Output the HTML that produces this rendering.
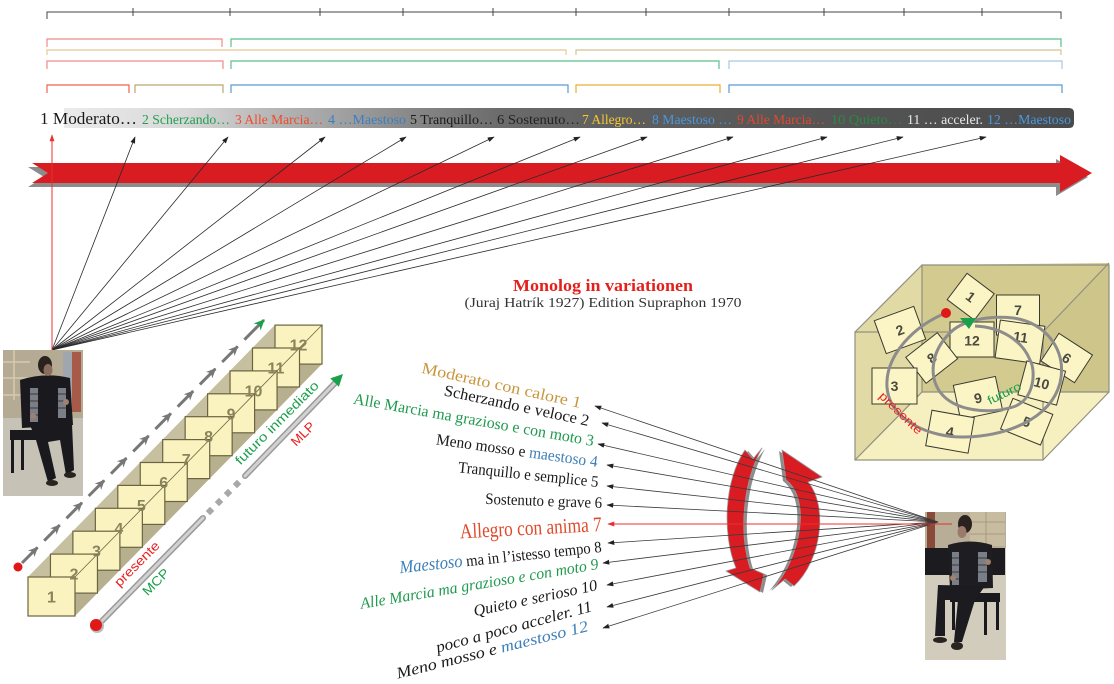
<!DOCTYPE html>
<html><head><meta charset="utf-8"><style>
html,body{margin:0;padding:0;background:#fff;}
svg{display:block;}
</style></head><body>
<svg width="1114" height="684" viewBox="0 0 1114 684" xmlns="http://www.w3.org/2000/svg" font-family="'Liberation Serif', serif">
<defs>
<marker id="ak" viewBox="0 0 10 10" refX="9" refY="5" markerWidth="7" markerHeight="7" markerUnits="userSpaceOnUse" orient="auto"><path d="M0,1.5L10,5L0,8.5Z" fill="#222"/></marker>
<marker id="ar" viewBox="0 0 10 10" refX="9" refY="5" markerWidth="7" markerHeight="7" markerUnits="userSpaceOnUse" orient="auto"><path d="M0,1.5L10,5L0,8.5Z" fill="#e83030"/></marker>
<marker id="ag" viewBox="0 0 10 10" refX="9" refY="5" markerWidth="10" markerHeight="10" markerUnits="userSpaceOnUse" orient="auto"><path d="M0,0.5L10,5L0,9.5L3,5Z" fill="#777"/></marker>
<marker id="agr" viewBox="0 0 10 10" refX="9" refY="5" markerWidth="11" markerHeight="11" markerUnits="userSpaceOnUse" orient="auto"><path d="M0,0.5L10,5L0,9.5L3,5Z" fill="#1aa04a"/></marker>
<linearGradient id="bar" gradientUnits="userSpaceOnUse" x1="64" y1="0" x2="1074" y2="0">
<stop offset="0" stop-color="#ebebeb"/>
<stop offset="0.12" stop-color="#d8d8d8"/>
<stop offset="0.2" stop-color="#b8b8b8"/>
<stop offset="0.27" stop-color="#a2a2a2"/>
<stop offset="0.35" stop-color="#868686"/>
<stop offset="0.43" stop-color="#6c6c6c"/>
<stop offset="0.55" stop-color="#5e5e5e"/>
<stop offset="1" stop-color="#4a4a4a"/>
</linearGradient>
</defs>

<!-- top ruler -->
<g stroke="#444" stroke-width="1" fill="none">
<path d="M47,19 V12 H1061 V19"/>
<path d="M133,8V16 M230,8V16 M320,8V16 M403,8V16 M493,8V16 M576,8V16 M646,8V16 M729,8V16 M824,8V16 M904,8V16 M982,8V16"/>
</g>

<!-- brackets -->
<g fill="none" stroke-width="1.2">
<path d="M47,47V39H222V47" stroke="#f08a8a"/>
<path d="M231,47V39H1061V47" stroke="#5cc08a"/>
<path d="M47,55V50H566V55" stroke="#e8c890"/>
<path d="M576,55V50H1061V55" stroke="#d8c090"/>
<path d="M47,69V61H223V69" stroke="#f08a8a"/>
<path d="M231,69V61H719V69" stroke="#5cc08a"/>
<path d="M729,69V61H1062V69" stroke="#a8c8e8"/>
<path d="M47,93V85H129V93" stroke="#f06050"/>
<path d="M135,93V85H223V93" stroke="#b8a870"/>
<path d="M231,93V85H568V93" stroke="#5a9ad0"/>
<path d="M576,93V85H720V93" stroke="#e8b030"/>
<path d="M729,93V85H1062V93" stroke="#5a9ad0"/>
</g>

<!-- text bar -->
<path d="M64,108 H1069 Q1074,108 1074,113 V123 Q1074,128 1069,128 H64 Z" fill="url(#bar)"/>
<g font-size="14">
<text x="40" y="124" font-size="17" fill="#1a1a1a" textLength="97" lengthAdjust="spacingAndGlyphs">1 Moderato…</text>
<text x="142" y="124" fill="#1fa050" textLength="88" lengthAdjust="spacingAndGlyphs">2 Scherzando…</text>
<text x="235" y="124" fill="#f04a2a" textLength="88" lengthAdjust="spacingAndGlyphs">3 Alle Marcia…</text>
<text x="328" y="124" fill="#3a7fc0" textLength="78" lengthAdjust="spacingAndGlyphs">4 …Maestoso</text>
<text x="410" y="124" fill="#1a1a1a" textLength="83" lengthAdjust="spacingAndGlyphs">5 Tranquillo…</text>
<text x="497" y="124" fill="#222" textLength="83" lengthAdjust="spacingAndGlyphs">6 Sostenuto…</text>
<text x="582" y="124" fill="#f5c830" textLength="64" lengthAdjust="spacingAndGlyphs">7 Allegro…</text>
<text x="652" y="124" fill="#4a98dc" textLength="80" lengthAdjust="spacingAndGlyphs">8 Maestoso …</text>
<text x="737" y="124" fill="#e04a30" textLength="88" lengthAdjust="spacingAndGlyphs">9 Alle Marcia…</text>
<text x="831" y="124" fill="#2a8a44" textLength="71" lengthAdjust="spacingAndGlyphs">10 Quieto…</text>
<text x="907" y="124" fill="#e8e8e8" textLength="76" lengthAdjust="spacingAndGlyphs">11 … acceler.</text>
<text x="987" y="124" fill="#4a98dc" textLength="84" lengthAdjust="spacingAndGlyphs">12 …Maestoso</text>
</g>

<!-- big red arrow -->
<path d="M28,167 L1056,167 L1056,159 L1088,177 L1056,196 L1056,187 L28,187 L44,177 Z" fill="#8c8c8c"/>
<path d="M32,163 L1060,163 L1060,155 L1092,173 L1060,192 L1060,183 L32,183 L48,173 Z" fill="#d81c22"/>

<!-- top fan lines -->
<g stroke="#2a2a2a" stroke-width="0.8" marker-end="url(#ak)">
<line x1="52" y1="350" x2="135" y2="137"/>
<line x1="52" y1="350" x2="228" y2="137"/>
<line x1="52" y1="350" x2="325" y2="137"/>
<line x1="52" y1="350" x2="406" y2="137"/>
<line x1="52" y1="350" x2="494" y2="137"/>
<line x1="52" y1="350" x2="580" y2="137"/>
<line x1="52" y1="350" x2="647" y2="137"/>
<line x1="52" y1="350" x2="733" y2="137"/>
<line x1="52" y1="350" x2="827" y2="137"/>
<line x1="52" y1="350" x2="903" y2="137"/>
<line x1="52" y1="350" x2="986" y2="137"/>
</g>
<line x1="52" y1="350" x2="52" y2="135" stroke="#e83030" stroke-width="1" marker-end="url(#ar)"/>

<!-- title -->
<text x="603" y="291" text-anchor="middle" font-weight="bold" font-size="17" fill="#e3211c" textLength="180" lengthAdjust="spacingAndGlyphs">Monolog in variationen</text>
<text x="603" y="307" text-anchor="middle" font-size="14" fill="#333" textLength="277" lengthAdjust="spacingAndGlyphs">(Juraj Hatrík 1927) Edition Supraphon 1970</text>

<!-- left photo -->
<g>
<rect x="3" y="350" width="80" height="146" fill="#c6c2b6"/>
<rect x="3" y="350" width="80" height="68" fill="#b5ab94"/>
<path d="M3,362H30M3,378H30M3,395H30M14,350V400" stroke="#d6caae" stroke-width="1.5"/>
<rect x="63" y="352" width="9" height="60" fill="#a0a6ae"/>
<rect x="72" y="352" width="9" height="60" fill="#a85a48"/>
<rect x="10" y="430" width="33" height="10" fill="#1a1a1e"/>
<rect x="11" y="440" width="3" height="33" fill="#1a1a1e"/>
<rect x="21" y="440" width="3" height="30" fill="#1a1a1e"/>
<path d="M20,380 Q45,372 70,378 L73,425 L22,428 Z" fill="#1a1a1e"/>
<rect x="30" y="388" width="8" height="34" fill="#7a7e86"/>
<rect x="58" y="388" width="8" height="30" fill="#7a7e86"/>
<path d="M30,394H38M30,401H38M30,408H38M30,415H38M58,394H66M58,401H66M58,408H66" stroke="#3a3a40" stroke-width="1"/>
<path d="M30,425 L72,424 L74,470 L66,475 L60,440 L48,442 L56,478 L48,482 L36,440 Z" fill="#1a1a1e"/>
<ellipse cx="52" cy="483" rx="6" ry="3" fill="#2a2420"/>
<ellipse cx="70" cy="475" rx="6" ry="3" fill="#2a2420"/>
<ellipse cx="45" cy="365" rx="7" ry="9" fill="#2a221e"/>
<ellipse cx="48" cy="370" rx="4.5" ry="6" fill="#8a6c5c"/>
<ellipse cx="33" cy="416" rx="3" ry="3" fill="#a08070"/>
<ellipse cx="66" cy="402" rx="3" ry="3" fill="#a08070"/>
</g>

<!-- staircase prism -->
<polygon points="28,616 28,577 275,325 322,325 322,364 75,616" fill="#b7b08f"/>
<polygon points="28,577 275,325 322,325 75,577" fill="#c7c0a0"/>
<g fill="#faf3c0" stroke="#6b6440" stroke-width="1.2">
<rect x="275" y="325.1" width="47" height="39"/>
<rect x="252.5" y="348" width="47" height="39"/>
<rect x="230.05" y="370.9" width="47" height="39"/>
<rect x="207.6" y="393.8" width="47" height="39"/>
<rect x="185.15" y="416.7" width="47" height="39"/>
<rect x="162.7" y="439.6" width="47" height="39"/>
<rect x="140.25" y="462.5" width="47" height="39"/>
<rect x="117.8" y="485.4" width="47" height="39"/>
<rect x="95.35" y="508.3" width="47" height="39"/>
<rect x="72.9" y="531.2" width="47" height="39"/>
<rect x="50.45" y="554.1" width="47" height="39"/>
<rect x="28" y="577" width="47" height="39"/>
</g>
<line x1="75" y1="577" x2="322" y2="325" stroke="#6b6440" stroke-width="0.8"/>
<g font-family="'Liberation Sans', sans-serif" font-weight="bold" font-size="16" fill="#8a845c" text-anchor="middle">
<text x="298.5" y="350.5">12</text>
<text x="276" y="373.5">11</text>
<text x="253.5" y="396.4">10</text>
<text x="231.1" y="419.3">9</text>
<text x="208.6" y="442.2">8</text>
<text x="186.2" y="465.1">7</text>
<text x="163.7" y="488">6</text>
<text x="141.3" y="510.9">5</text>
<text x="118.8" y="533.8">4</text>
<text x="96.4" y="556.7">3</text>
<text x="73.9" y="579.6">2</text>
<text x="51.5" y="602.5">1</text>
</g>

<!-- dashed gray arrows -->
<circle cx="18" cy="567" r="4.5" fill="#e01818"/>
<g stroke="#777" stroke-width="3" marker-end="url(#ag)">
<line x1="22" y1="563" x2="37.5" y2="547.4"/>
<line x1="44.2" y1="540.7" x2="59.7" y2="525.1"/>
<line x1="66.5" y1="518.3" x2="82" y2="502.7"/>
<line x1="88.7" y1="496" x2="104.2" y2="480.4"/>
<line x1="111" y1="473.7" x2="126.5" y2="458.1"/>
<line x1="133.2" y1="451.4" x2="148.7" y2="435.8"/>
<line x1="155.4" y1="429" x2="170.9" y2="413.4"/>
<line x1="177.7" y1="406.7" x2="193.2" y2="391.1"/>
<line x1="199.9" y1="384.4" x2="215.4" y2="368.8"/>
<line x1="222.2" y1="362" x2="237.7" y2="346.4"/>
</g>
<line x1="244.4" y1="339.7" x2="264" y2="320" stroke="#777" stroke-width="3" marker-end="url(#agr)"/>

<!-- MCP arrow -->
<g stroke-linecap="round">
<line x1="97" y1="626" x2="203" y2="518" stroke="#9a9a9a" stroke-width="6"/>
<line x1="97" y1="626" x2="203" y2="518" stroke="#d2d2d2" stroke-width="3"/>
<line x1="245" y1="476" x2="336" y2="382" stroke="#9a9a9a" stroke-width="6"/>
<line x1="245" y1="476" x2="336" y2="382" stroke="#d2d2d2" stroke-width="3"/>
</g>
<g fill="#a8a8a8">
<rect x="-3" y="-3" width="6" height="6" transform="translate(210,511) rotate(-45)"/>
<rect x="-3" y="-3" width="6" height="6" transform="translate(219,502) rotate(-45)"/>
<rect x="-3" y="-3" width="6" height="6" transform="translate(228,493) rotate(-45)"/>
<rect x="-3" y="-3" width="6" height="6" transform="translate(237,484) rotate(-45)"/>
</g>
<polygon points="343,374 338.9,386.8 330.3,378.4" fill="#1aa04a"/>
<circle cx="97" cy="626" r="7" fill="#bbb"/>
<circle cx="96" cy="625" r="6" fill="#e01818"/>

<g font-family="'Liberation Sans', sans-serif" font-size="13">
<text transform="translate(140,567) rotate(-45)" text-anchor="middle" fill="#e82020" textLength="58" lengthAdjust="spacingAndGlyphs">presente</text>
<text transform="translate(159,585) rotate(-45)" text-anchor="middle" fill="#1aa04a" textLength="32" lengthAdjust="spacingAndGlyphs">MCP</text>
<text transform="translate(280,426) rotate(-45)" text-anchor="middle" fill="#1aa04a" textLength="112" lengthAdjust="spacingAndGlyphs">futuro inmediato</text>
<text transform="translate(306,437) rotate(-45)" text-anchor="middle" fill="#e82020" textLength="28" lengthAdjust="spacingAndGlyphs">MLP</text>
</g>

<!-- right cube -->
<polygon points="922,265 1109,263 1109,392 922,392" fill="#d3ca90"/>
<polygon points="855,332 922,265 922,392 855,460" fill="#e2daa5"/>
<polygon points="1043,332 1109,263 1109,392 1043,460" fill="#cec58a"/>
<polygon points="855,460 922,392 1109,392 1043,460" fill="#f6efbf"/>
<g fill="none" stroke="#8f8f80" stroke-width="1.2">
<rect x="855" y="332" width="188" height="128"/>
<path d="M922,392V265H1109V392H922"/>
<path d="M855,332L922,265M1043,332L1109,263M1043,460L1109,392M855,460L922,392"/>
</g>
<g fill="#fbf4c4" stroke="#3a3a30" stroke-width="1" font-family="'Liberation Sans', sans-serif" font-weight="bold" font-size="14">
<g transform="translate(1018,315)"><rect x="-21.5" y="-20" width="43" height="40"/><text x="0" y="0" text-anchor="middle" fill="#4a4a40" stroke="none">7</text></g>
<g transform="translate(970.7,296.7) rotate(37)"><rect x="-17" y="-16.5" width="34" height="33"/><text x="0" y="5" text-anchor="middle" fill="#4a4a40" stroke="none">1</text></g>
<g transform="translate(900,330) rotate(-20)"><rect x="-21" y="-17.5" width="42" height="35"/><text x="0" y="5" text-anchor="middle" fill="#4a4a40" stroke="none">2</text></g>
<g transform="translate(1020,342) rotate(8)"><rect x="-22.5" y="-19" width="45" height="38"/><text x="0" y="0" text-anchor="middle" fill="#4a4a40" stroke="none">11</text></g>
<g transform="translate(972,339.5)"><rect x="-22" y="-17.5" width="44" height="35"/><text x="0" y="6" text-anchor="middle" fill="#4a4a40" stroke="none">12</text></g>
<g transform="translate(1066.7,358) rotate(33)"><rect x="-20" y="-16.5" width="40" height="33"/><text x="0" y="5" text-anchor="middle" fill="#4a4a40" stroke="none">6</text></g>
<g transform="translate(931.7,358) rotate(-38)"><rect x="-20" y="-16.5" width="40" height="33"/><text x="0" y="5" text-anchor="middle" fill="#4a4a40" stroke="none">8</text></g>
<g transform="translate(894.5,386)"><rect x="-22.5" y="-18" width="45" height="36"/><text x="0" y="5" text-anchor="middle" fill="#4a4a40" stroke="none">3</text></g>
<g transform="translate(1041.7,383) rotate(15)"><rect x="-20" y="-17.5" width="40" height="35"/><text x="0" y="5" text-anchor="middle" fill="#4a4a40" stroke="none">10</text></g>
<g transform="translate(978,398) rotate(-12)"><rect x="-21.5" y="-17.5" width="43" height="35"/><text x="0" y="5" text-anchor="middle" fill="#4a4a40" stroke="none">9</text></g>
<g transform="translate(1026.7,421.7) rotate(22)"><rect x="-21.5" y="-16.5" width="43" height="33"/><text x="0" y="5" text-anchor="middle" fill="#4a4a40" stroke="none">5</text></g>
<g transform="translate(950,431.7) rotate(10)"><rect x="-21.5" y="-18" width="43" height="36"/><text x="0" y="5" text-anchor="middle" fill="#4a4a40" stroke="none">4</text></g>
</g>
<path d="M946,313 C915,325 885,355 887,387 C889,420 930,438 965,437 C1005,436 1050,420 1060,383 C1068,350 1045,322 1013,318 C985,315 960,322 950,333 C932,350 928,375 940,392 C955,412 990,414 1013,407 C1035,400 1036,370 1030,360 C1022,340 1000,327 975,326" fill="none" stroke="#8c8c8c" stroke-width="3"/>
<polygon points="960,318 976,318 969,329" fill="#1aa04a"/>
<circle cx="946" cy="313" r="5" fill="#e01818"/>
<g font-family="'Liberation Sans', sans-serif" font-size="12">
<text transform="translate(898,416) rotate(44)" text-anchor="middle" fill="#e82020" textLength="55" lengthAdjust="spacingAndGlyphs">presente</text>
<text transform="translate(1006,397) rotate(-26)" text-anchor="middle" fill="#1aa04a" textLength="36" lengthAdjust="spacingAndGlyphs">futuro</text>
</g>

<!-- curved red arrows -->
<g stroke-linejoin="round">
<path transform="translate(3,1)" d="M745,450 L753,459 L762,448 C744,480 738,530 750,568 L764,574 L760,592 L726,571 L736,568 C722,535 724,480 745,450 Z" fill="#8c8c8c"/>
<path d="M745,450 L753,459 L762,448 C744,480 738,530 750,568 L764,574 L760,592 L726,571 L736,568 C722,535 724,480 745,450 Z" fill="#d81c22" stroke="#9a9a9a" stroke-width="0.8"/>
<path transform="translate(-3,1)" d="M772,590 C800,560 812,500 786,480 L782,450 L822,477 L808,482 C828,505 822,560 794,586 L785,579 Z" fill="#8c8c8c"/>
<path d="M772,590 C800,560 812,500 786,480 L782,450 L822,477 L808,482 C828,505 822,560 794,586 L785,579 Z" fill="#d81c22" stroke="#9a9a9a" stroke-width="0.8"/>
</g>

<!-- right photo -->
<g>
<rect x="925" y="512" width="81" height="148" fill="#d2ccbc"/>
<rect x="925" y="512" width="81" height="36" fill="#b8ad96"/>
<rect x="970" y="512" width="35" height="34" fill="#c8bca0"/>
<path d="M970,522H1005M970,534H1005M986,512V546" stroke="#a89a80" stroke-width="1"/>
<rect x="927" y="512" width="8" height="40" fill="#8a4a3a"/>
<rect x="925" y="548" width="80" height="27" fill="#1c1c20"/>
<rect x="950" y="593" width="50" height="9" fill="#1a1a1e"/>
<rect x="952" y="602" width="3" height="28" fill="#1a1a1e"/>
<rect x="984" y="602" width="3" height="33" fill="#1a1a1e"/>
<rect x="996" y="602" width="3" height="28" fill="#1a1a1e"/>
<path d="M948,545 Q970,538 992,545 L993,588 L950,590 Z" fill="#1e1e22"/>
<rect x="952" y="552" width="7" height="33" fill="#7a7e86"/>
<rect x="978" y="552" width="9" height="30" fill="#7a7e86"/>
<path d="M952,558H959M952,565H959M952,572H959M952,579H959M978,558H987M978,565H987M978,572H987" stroke="#3a3a40" stroke-width="1"/>
<path d="M938,585 L985,586 L975,600 L962,642 L954,642 L958,600 L945,600 L945,636 L935,636 Z" fill="#1c1c20"/>
<ellipse cx="940" cy="640" rx="7" ry="3" fill="#2a2420"/>
<ellipse cx="957" cy="646" rx="6" ry="4" fill="#2a2420"/>
<ellipse cx="965" cy="524" rx="7" ry="9" fill="#2a221e"/>
<ellipse cx="962" cy="532" rx="4.5" ry="6" fill="#9a7a68"/>
<ellipse cx="953" cy="578" rx="3" ry="3" fill="#a08070"/>
<ellipse cx="988" cy="562" rx="3" ry="3" fill="#a08070"/>
</g>

<!-- middle fan lines -->
<g stroke="#3a3a3a" stroke-width="0.8" marker-end="url(#ak)">
<line x1="938" y1="522" x2="595" y2="406"/>
<line x1="938" y1="522" x2="602" y2="423"/>
<line x1="938" y1="522" x2="598" y2="444"/>
<line x1="938" y1="522" x2="607" y2="465"/>
<line x1="938" y1="522" x2="607" y2="486"/>
<line x1="938" y1="522" x2="607" y2="505"/>
<line x1="938" y1="522" x2="608" y2="543"/>
<line x1="938" y1="522" x2="603" y2="563"/>
<line x1="938" y1="522" x2="607" y2="585"/>
<line x1="938" y1="522" x2="607" y2="607"/>
<line x1="938" y1="522" x2="603" y2="628"/>
</g>
<line x1="952" y1="524" x2="608" y2="524" stroke="#e83030" stroke-width="1" marker-end="url(#ar)"/>

<!-- middle text list -->
<g font-size="16" text-anchor="end">
<text transform="translate(580,408) rotate(12.5)" fill="#c8963c" textLength="163" lengthAdjust="spacingAndGlyphs">Moderato con calore 1</text>
<text transform="translate(588,426) rotate(12)" fill="#1a1a1a" textLength="148" lengthAdjust="spacingAndGlyphs">Scherzando e veloce 2</text>
<text transform="translate(593,446) rotate(10)" fill="#1f9a4e" textLength="244" lengthAdjust="spacingAndGlyphs">Alle Marcia ma grazioso e con moto 3</text>
<text transform="translate(597,467) rotate(8)" fill="#1a1a1a" textLength="163" lengthAdjust="spacingAndGlyphs">Meno mosso e <tspan fill="#3d7fb8">maestoso 4</tspan></text>
<text transform="translate(598,487) rotate(6)" fill="#1a1a1a" textLength="141" lengthAdjust="spacingAndGlyphs">Tranquillo e semplice 5</text>
<text transform="translate(602,508) rotate(2)" fill="#1a1a1a" textLength="117" lengthAdjust="spacingAndGlyphs">Sostenuto e grave 6</text>
<text transform="translate(602,531) rotate(-3)" font-size="21" fill="#e04a2a" textLength="142" lengthAdjust="spacingAndGlyphs">Allegro con anima 7</text>
<text transform="translate(602,552) rotate(-6)" fill="#1a1a1a" textLength="203" lengthAdjust="spacingAndGlyphs"><tspan fill="#3d7fb8" font-style="italic" font-size="18">Maestoso</tspan> ma in l’istesso tempo 8</text>
<text transform="translate(599,569) rotate(-9.5)" fill="#1f9a4e" font-style="italic" textLength="241" lengthAdjust="spacingAndGlyphs">Alle Marcia ma grazioso e con moto 9</text>
<text transform="translate(598,590) rotate(-12)" fill="#1a1a1a" font-style="italic" textLength="126" lengthAdjust="spacingAndGlyphs">Quieto e serioso 10</text>
<text transform="translate(593,611) rotate(-15)" fill="#1a1a1a" font-style="italic" textLength="161" lengthAdjust="spacingAndGlyphs">poco a poco acceler. 11</text>
<text transform="translate(589,631) rotate(-14)" fill="#1a1a1a" font-style="italic" textLength="197" lengthAdjust="spacingAndGlyphs">Meno mosso e <tspan fill="#3d7fb8">maestoso 12</tspan></text>
</g>
</svg>
</body></html>
